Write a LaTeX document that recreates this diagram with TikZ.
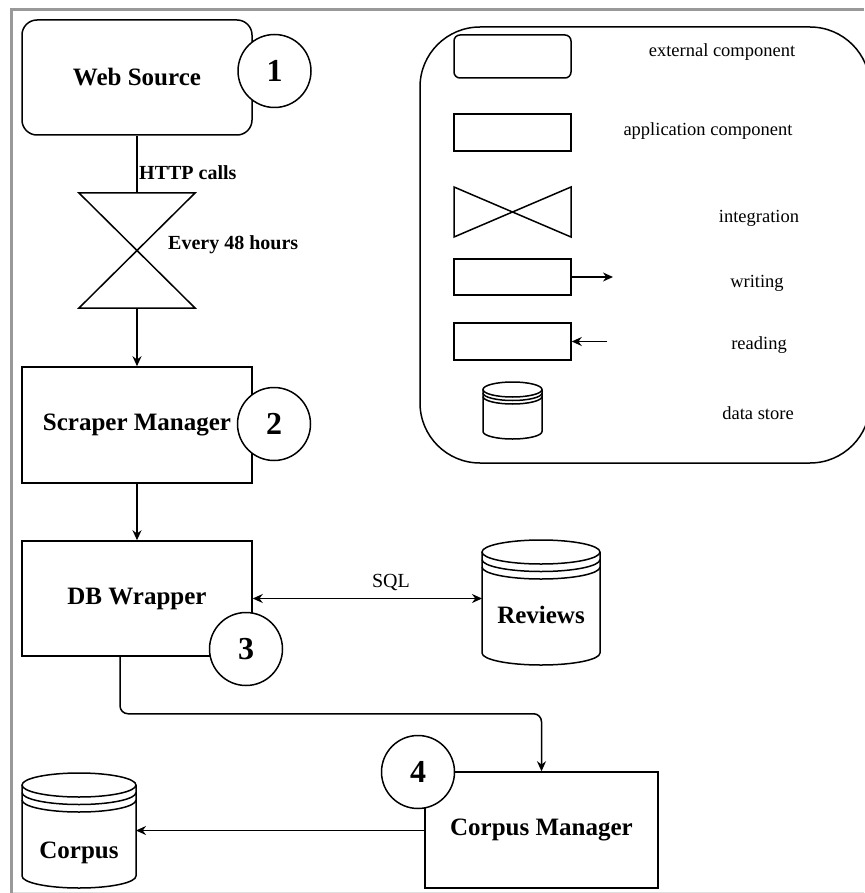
\documentclass[tikz,border=0pt]{standalone}
\usepackage{fontspec}
\setmainfont{Liberation Serif}
\usetikzlibrary{arrows.meta,calc}
\tikzset{
  ln/.style={line width=1.5pt},
  box/.style={draw, ln, inner sep=0pt},
  comp/.style={box, minimum width=230pt, minimum height=116pt, font=\fontsize{25}{30}\selectfont\bfseries},
  numc/.style={circle, draw, fill=white, ln, minimum size=73pt, inner sep=0pt, font=\fontsize{32}{36}\selectfont\bfseries},
  arr/.style={-{Stealth[length=10pt,width=9pt]}, ln},
  darr/.style={{Stealth[length=10pt,width=9pt]}-{Stealth[length=10pt,width=9pt]}, ln},
  lbl/.style={font=\fontsize{20}{24}\selectfont\bfseries, inner sep=0pt},
  leg/.style={font=\fontsize{18.5}{22}\selectfont, inner sep=0pt},
  legbox/.style={box, minimum width=117pt},
  hidden/.style={inner sep=0pt, outer sep=0pt},
  big/.style={font=\fontsize{25}{30}\selectfont\bfseries, inner sep=0pt},
}
% cx, top, bottom, rx, ry, gap
\newcommand{\cylshape}[6]{%
  \draw[ln, fill=white] (#1-#4, #2+#5) -- (#1-#4, #3-#5)
     arc[start angle=180, end angle=360, x radius=#4pt, y radius=#5pt] -- (#1+#4, #2+#5);
  \draw[ln] (#1, #2+#5) ellipse[x radius=#4pt, y radius=#5pt];
  \draw[ln] (#1-#4, #2+#5+#6) arc[start angle=180, end angle=360, x radius=#4pt, y radius=#5pt];
  \draw[ln] (#1-#4, #2+#5+2*#6) arc[start angle=180, end angle=360, x radius=#4pt, y radius=#5pt];
}
\begin{document}
\begin{tikzpicture}[x=1pt, y=-1pt]
\useasboundingbox (0,0) rectangle (864,893);
\fill[white] (0,0) rectangle (864,893);

% frame
\draw[gray!25, line width=1pt] (11,892) -- (864,892);
\draw[gray!80, line width=3pt] (11,893) -- (11,10) -- (864,10);

% legend
\node[box, rounded corners=60pt, minimum width=450pt, minimum height=436pt] (legend) at (645,245) {};
\node[legbox, rounded corners=6pt, minimum height=43pt] (lext) at (512.5,56.5) {};
\node[legbox, minimum height=37pt] (lapp) at (512.5,132.5) {};
\node[hidden, minimum width=117pt, minimum height=50pt] (lint) at (512.5,212) {};
\draw[ln, line join=miter] (lint.north west) -- (lint.south west) -- (lint.north east) -- (lint.south east) -- cycle;
\node[legbox, minimum height=36pt] (lwri) at (512.5,277) {};
\coordinate (lwriend) at (613,277);
\draw[arr] (lwri.east) -- (lwriend);
\node[legbox, minimum height=37pt] (lrea) at (512.5,341.5) {};
\coordinate (lreastart) at (607,341.5);
\draw[arr] (lreastart) -- (lrea.east);
\node[hidden, minimum width=59pt, minimum height=57pt] (ldb) at (512.5,410.5) {};
\cylshape{512.5}{382}{439}{29.5}{7.5}{3.5}

\node[leg] (text1) at (722,52) {external component};
\node[leg] (text2) at (708,131) {application component};
\node[leg] (text3) at (759,218) {integration};
\node[leg] (text4) at (757,283) {writing};
\node[leg] (text5) at (759,345) {reading};
\node[leg] (text6) at (758,413) {data store};

% main flow
\node[comp, rounded corners=15pt, minimum height=115pt] (web) at (137,77.5) {Web Source};
\node[hidden, minimum width=116pt, minimum height=115pt] (integ) at (137,250.5) {};
\draw[ln, line join=miter] (integ.north west) -- (integ.north east) -- (integ.south west) -- (integ.south east) -- cycle;
\draw[ln] (web.south) -- (integ.north);
\node[lbl, anchor=west] (http) at (139,173) {HTTP calls};
\node[lbl, anchor=west] (every) at (168,245) {Every 48 hours};

\node[comp] (scraper) at (137,425) {Scraper Manager};
\draw[arr] (integ.south) -- (scraper.north);

\node[comp, minimum height=115pt] (dbw) at (137,598.5) {DB Wrapper};
\draw[arr] (scraper.south) -- (dbw.north);

\node[hidden, minimum width=118pt, minimum height=125pt] (rev) at (541,602.5) {};
\cylshape{541}{540}{665}{59}{12}{7.5}
\node[big] (revt) at (541,615) {Reviews};
\draw[darr] (dbw.east) -- (dbw.east -| rev.west);
\node[font=\fontsize{20}{24}\selectfont, inner sep=0pt] (sql) at (391,582) {SQL};

\node[comp, minimum width=233pt] (cm) at (541.5,830) {Corpus Manager};
\draw[arr, rounded corners=8pt] ([xshift=-17pt]dbw.south) -- ++(0,57) -| (cm.north);

\node[hidden, minimum width=114pt, minimum height=115pt] (corp) at (79,830.5) {};
\cylshape{79}{773}{888}{57}{12}{7.5}
\node[big] (corpt) at (79,853) {Corpus};
\draw[arr] (cm.west |- corp.east) -- (corp.east);

% numbers
\node[numc] (n1) at (274.5,71) {1};
\node[numc] (n2) at (274,424) {2};
\node[numc] (n3) at (246,649) {3};
\node[numc] (n4) at (418,772) {4};
\end{tikzpicture}
\end{document}
